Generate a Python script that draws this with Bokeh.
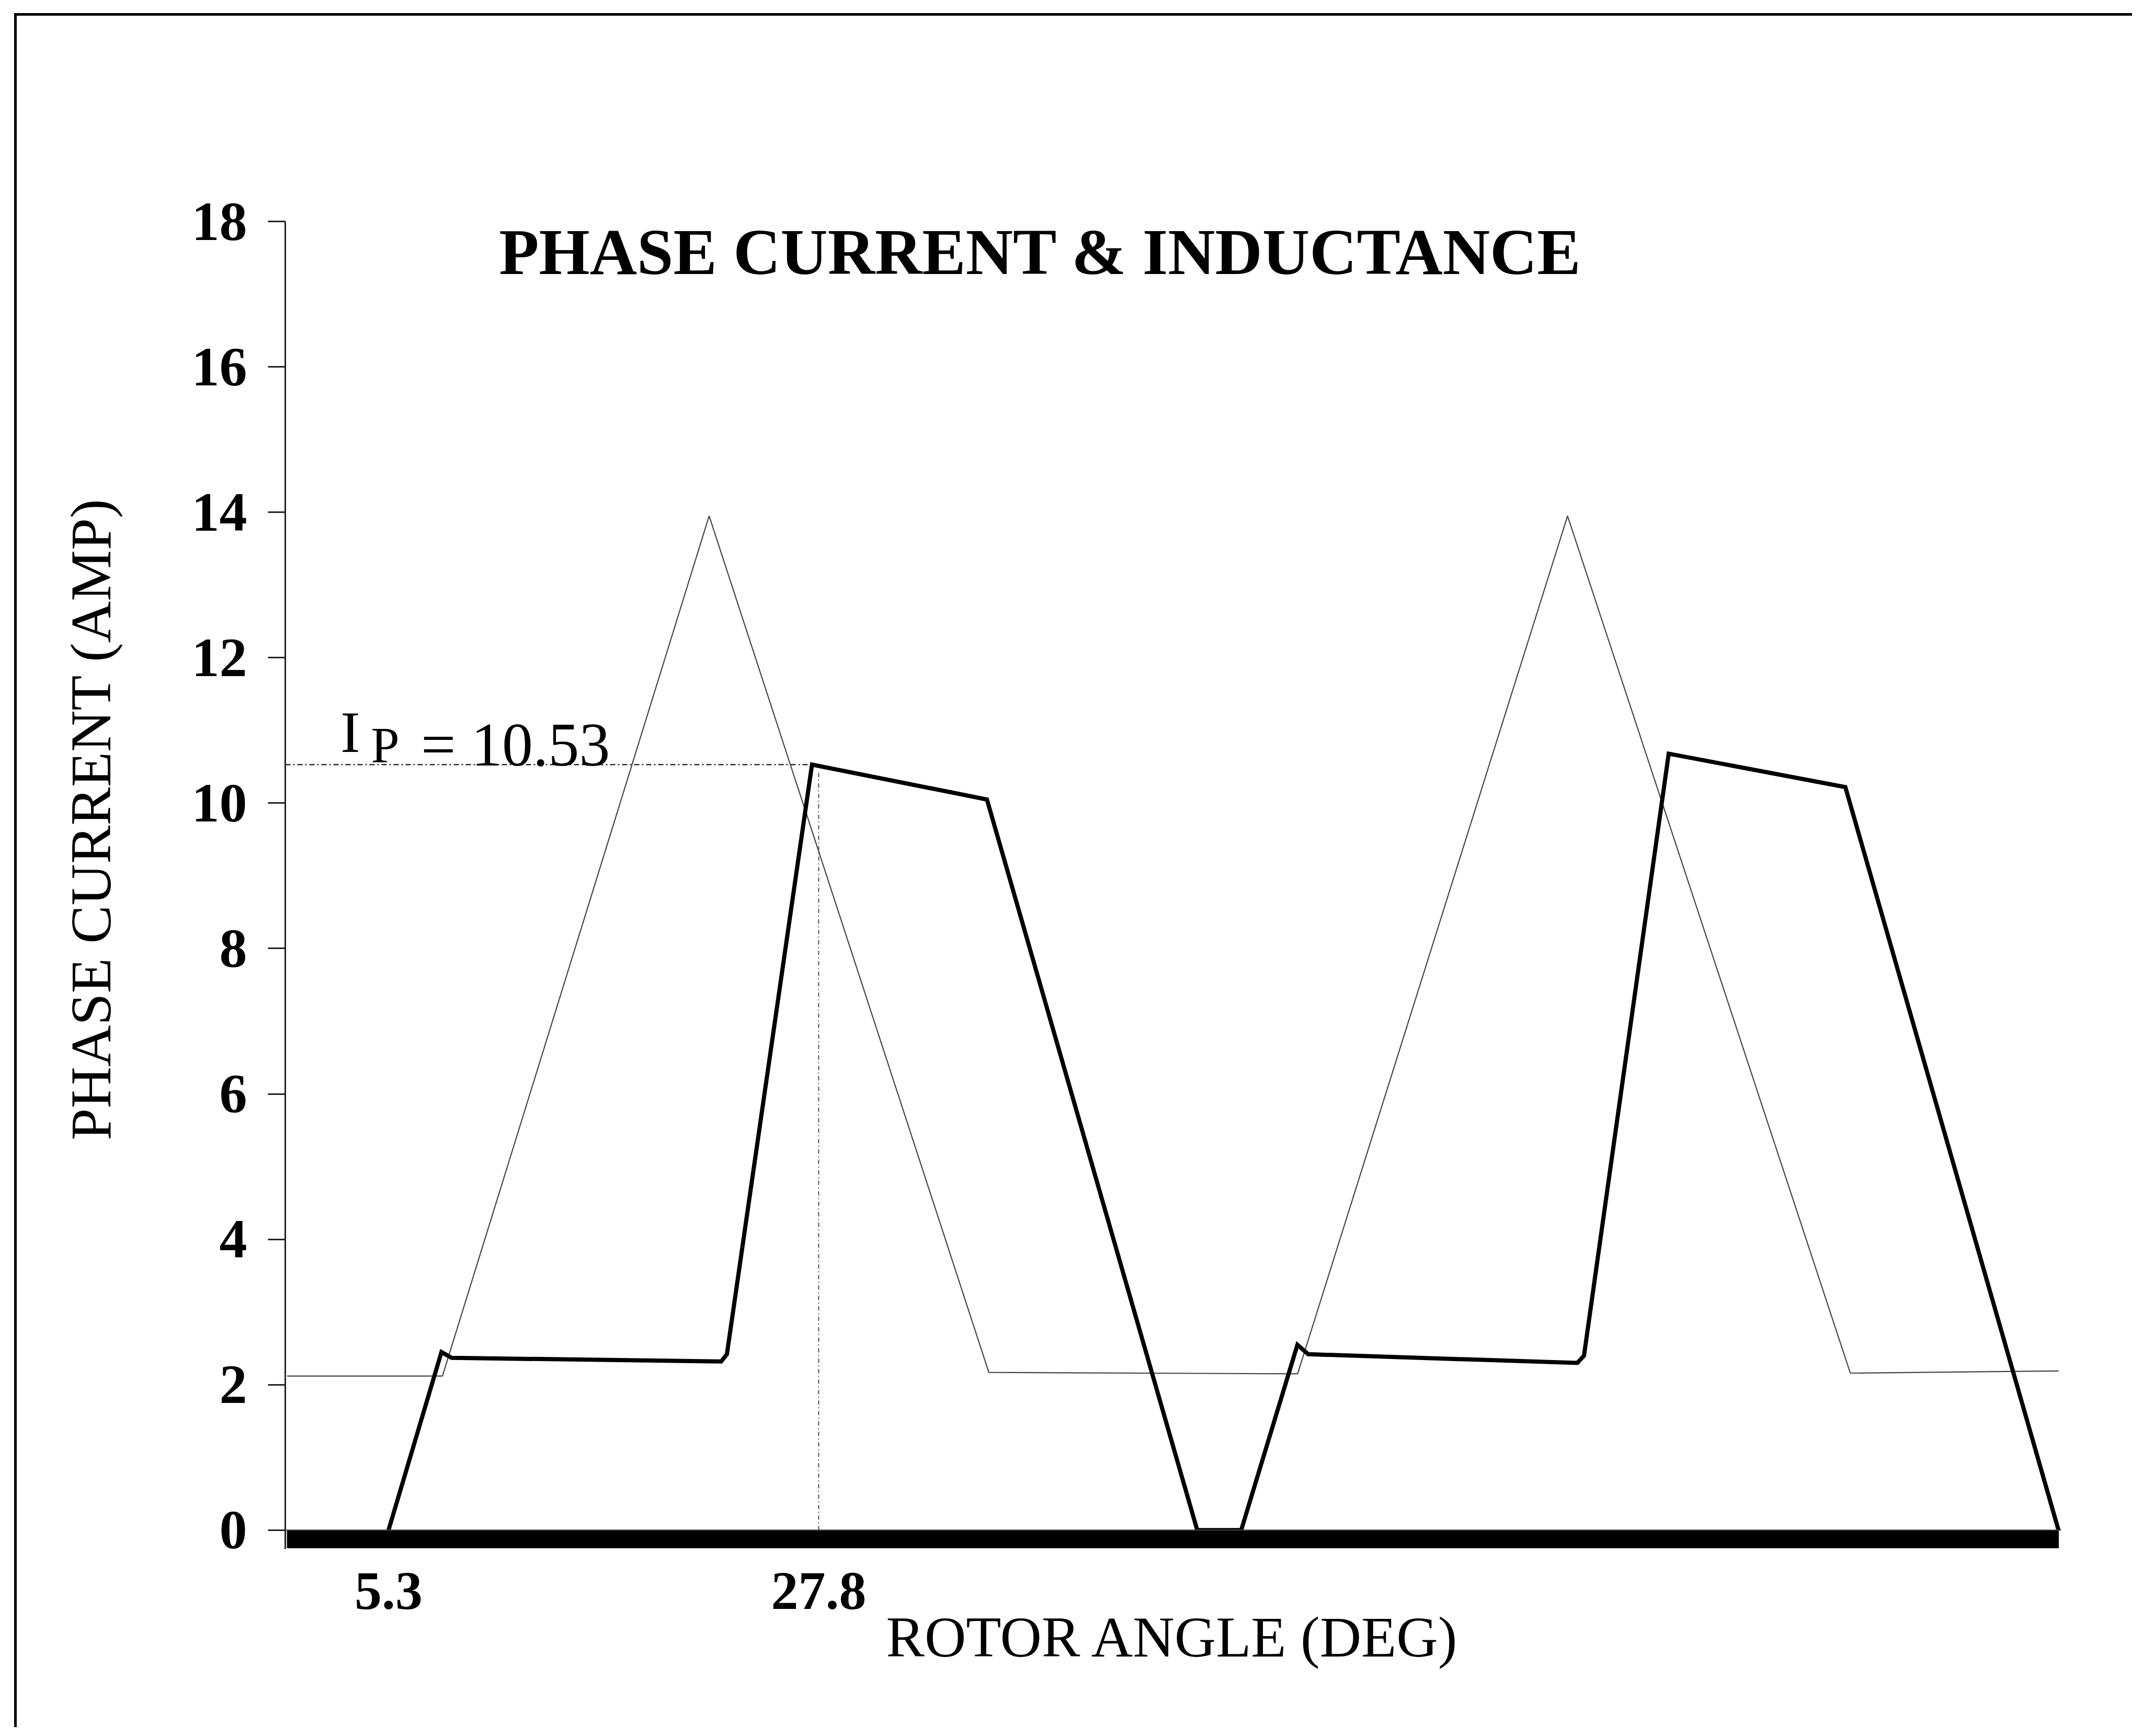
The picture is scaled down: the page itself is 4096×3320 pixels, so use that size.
from bokeh.plotting import figure
from bokeh.models import Range1d, FixedTicker, Label, Span
from bokeh.embed import file_html
from bokeh.resources import INLINE

# ---- data ----
angle_current = [5.3, 8.07, 8.6, 22.7, 23.0, 27.45, 36.6, 47.6,
                 49.9, 52.84, 53.4, 67.48, 67.83, 72.26, 81.5, 92.65]
current = [0.0, 2.45, 2.37, 2.32, 2.42, 10.53, 10.05, 0.0,
           0.0, 2.55, 2.42, 2.30, 2.40, 10.68, 10.22, 0.0]

angle_ind = [0.0, 8.12, 22.07, 36.7, 52.85, 66.97, 81.76, 92.65]
inductance = [2.12, 2.12, 13.95, 2.17, 2.15, 13.95, 2.16, 2.19]

y_ticks = [0, 2, 4, 6, 8, 10, 12, 14, 16, 18]
x_ticks = [5.3, 27.8]

peak_angle = 27.45
peak_current = 10.53
marker_angle = 27.8
bar_start = 0.0
bar_end = 92.65
bar_depth = 0.245

x_start, x_end = -0.1, 92.79
y_start, y_end = -0.26, 19.82
y_axis_top = 18

SERIF = "Liberation Serif"

p = figure(width=4050, height=3278, title=None,
           x_range=Range1d(x_start, x_end), y_range=Range1d(y_start, y_end),
           output_backend="svg", toolbar_location=None,
           min_border_left=513, min_border_right=141,
           min_border_top=140, min_border_bottom=346)

# page frame (left and top edges of the scanned figure box)
p.margin = (25, 0, 0, 27)
p.styles = {"border-left": "5px solid black", "border-top": "5px solid black"}

p.background_fill_color = "white"
p.border_fill_color = "white"
p.outline_line_color = None
p.xgrid.visible = False
p.ygrid.visible = False

# thick base bar under the zero line
p.quad(left=[bar_start], right=[bar_end], bottom=[-bar_depth], top=[0],
       fill_color="black", line_color="black")

# inductance profile (thin)
p.line(angle_ind, inductance, line_color="#454545", line_width=2.2)

# peak-current marker lines
p.line([x_start, peak_angle], [peak_current, peak_current],
       line_color="#303030", line_width=2.5, line_dash="10 5 3 5")
p.line([marker_angle, marker_angle], [0, peak_current - 0.1],
       line_color="#505050", line_width=2, line_dash="8 5 2 5")

# phase current (thick)
p.line(angle_current, current, line_color="black", line_width=8,
       line_join="miter")

# thin zero line across the width
p.add_layout(Span(location=0, dimension="width", line_color="#444444",
                  line_width=2))

# y axis
ya = p.yaxis[0]
ya.ticker = FixedTicker(ticks=y_ticks)
ya.bounds = (y_start, y_axis_top)
ya.axis_line_width = 3
ya.axis_line_color = "#222222"
ya.major_tick_line_width = 3
ya.major_tick_line_color = "#222222"
ya.major_tick_out = 33
ya.major_tick_in = 0
ya.minor_tick_line_color = None
ya.major_label_text_font = SERIF
ya.major_label_text_font_style = "bold"
ya.major_label_text_font_size = "106px"
ya.major_label_text_color = "black"
ya.major_label_standoff = 40
ya.axis_label = "PHASE CURRENT (AMP)"
ya.axis_label_text_font = SERIF
ya.axis_label_text_font_style = "normal"
ya.axis_label_text_font_size = "110px"
ya.axis_label_text_color = "black"
ya.axis_label_standoff = 129

# x axis
xa = p.xaxis[0]
xa.ticker = FixedTicker(ticks=x_ticks)
xa.axis_line_color = None
xa.major_tick_line_color = None
xa.minor_tick_line_color = None
xa.major_label_text_font = SERIF
xa.major_label_text_font_style = "bold"
xa.major_label_text_font_size = "104px"
xa.major_label_text_color = "black"
xa.major_label_standoff = 40
xa.axis_label = "ROTOR ANGLE (DEG)"
xa.axis_label_text_font = SERIF
xa.axis_label_text_font_style = "normal"
xa.axis_label_text_font_size = "110px"
xa.axis_label_text_color = "black"
xa.axis_label_standoff = -10

# title inside the plot
p.add_layout(Label(x=11.08, y=17.58, text="PHASE CURRENT & INDUCTANCE",
                   text_font=SERIF, text_font_style="bold",
                   text_font_size="125px", text_color="black",
                   text_align="left", text_baseline="alphabetic"))

# I_P = 10.53 annotation
p.add_layout(Label(x=2.79, y=10.98, text="I", text_font=SERIF,
                   text_font_size="112px", text_color="black",
                   text_align="left", text_baseline="alphabetic"))
p.add_layout(Label(x=4.38, y=10.80, text="P", text_font=SERIF,
                   text_font_size="98px", text_color="black",
                   text_align="left", text_baseline="alphabetic"))
p.add_layout(Label(x=7.0, y=10.80, text="= 10.53", text_font=SERIF,
                   text_font_size="118px", text_color="black",
                   text_align="left", text_baseline="alphabetic"))

open("out.html", "w").write(file_html(p, INLINE))
